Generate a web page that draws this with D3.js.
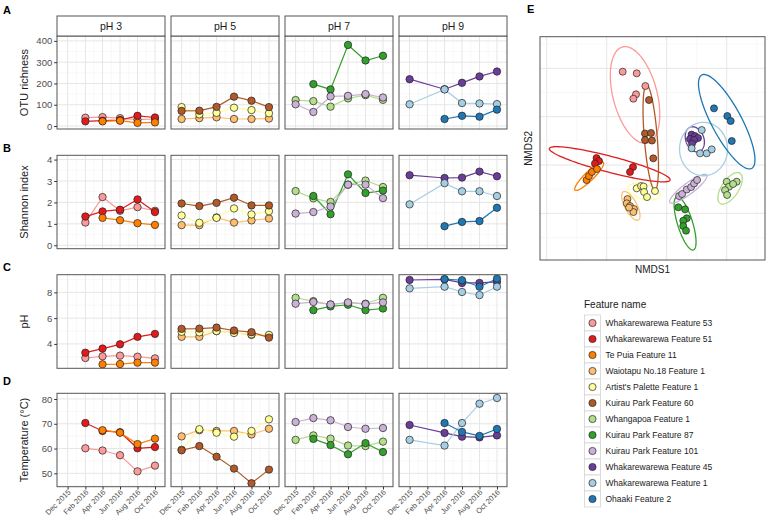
<!DOCTYPE html>
<html><head><meta charset="utf-8">
<script src="https://cdn.jsdelivr.net/npm/d3@7"></script>
<style>
body{margin:0;background:#fff}
svg{display:block}
text{font-family:"Liberation Sans",Arial,Helvetica,sans-serif}
</style>
</head><body>
<svg id="chart" width="767" height="520"></svg>
<script>
// ---------------- DATA ----------------
const sampleDates = ["2015-12-01","2016-02-01","2016-04-01","2016-06-01","2016-08-01","2016-10-01"];
const dateTickLabels = ["Dec 2015","Feb 2016","Apr 2016","Jun 2016","Aug 2016","Oct 2016"];
const facetNames = ["pH 3","pH 5","pH 7","pH 9"];
const features = ["Whakarewarewa Feature 53","Whakarewarewa Feature 51","Te Puia Feature 11",
  "Waiotapu No.18 Feature 1","Artist's Palette Feature 1","Kuirau Park Feature 60",
  "Whangapoa Feature 1","Kuirau Park Feature 87","Kuirau Park Feature 101",
  "Whakarewarewa Feature 45","Whakarewarewa Feature 1","Ohaaki Feature 2"];
const featureColors = ["#FB9A99","#E31A1C","#FF7F00","#FDBF6F","#FFFF99","#B15928",
  "#B2DF8A","#33A02C","#CAB2D6","#6A3D9A","#A6CEE3","#1F78B4"];
const featureFacet = ["pH 3","pH 3","pH 3","pH 5","pH 5","pH 5","pH 7","pH 7","pH 7","pH 9","pH 9","pH 9"];

const otuRichness = [
  [null, 39, 42, 37, 30, 33],
  [null, 22, 25, 28, 48, 40],
  [null, null, 22, 25, 15, 17],
  [33, 37, 41, 33, 33, 35],
  [89, 55, 62, 86, 75, 60],
  [71, 72, 90, 138, 119, 89],
  [122, 117, 91, 130, 145, 123],
  [null, 197, 172, 381, 308, 330],
  [102, 66, 139, 142, 150, 134],
  [220, null, 173, 203, 233, 256],
  [102, null, 172, 108, 106, 103],
  [null, null, 33, 48, 44, 77]
];
const shannonIndex = [
  [null, 1.06, 2.25, 1.61, 1.78, 1.61],
  [null, 1.34, 1.58, 1.66, 2.14, 1.55],
  [null, null, 1.28, 1.17, 1.03, 0.95],
  [0.94, 0.94, 1.30, 1.06, 1.16, 1.25],
  [1.39, 1.05, 1.28, 1.72, 1.44, 1.59],
  [1.95, 1.83, 1.98, 2.22, 1.86, 1.86],
  [2.53, 2.19, 2.02, 2.83, 3.02, 2.72],
  [null, 2.30, 1.45, 3.31, 2.44, 2.55],
  [1.48, 1.55, 1.81, 2.83, 2.83, 2.20],
  [3.27, null, 3.14, 3.16, 3.44, 3.22],
  [1.91, null, 2.90, 2.52, 2.52, 2.30],
  [null, null, 0.89, 1.09, 1.13, 1.75]
];
const phValues = [
  [null, 2.91, 3.04, 3.09, 3.01, 2.88],
  [null, 3.32, 3.64, 3.97, 4.55, 4.78],
  [null, null, 2.42, 2.44, 2.55, 2.55],
  [4.55, 4.55, 4.99, 4.88, 4.70, 4.65],
  [4.94, 4.90, 5.00, 4.85, 4.75, 4.70],
  [5.17, 5.19, 5.27, 5.04, 4.91, 4.49],
  [7.58, 7.32, 7.06, 7.19, 7.12, 7.58],
  [null, 6.62, 6.91, 7.04, 6.62, 6.75],
  [7.12, 7.25, 7.06, 7.22, 7.09, 7.22],
  [8.96, null, 9.01, 8.73, 8.73, 8.81],
  [8.31, null, 8.44, 8.03, 7.79, 8.44],
  [null, null, 9.03, 8.94, 8.44, 9.06]
];
const temperature = [
  [null, 60.1, 59.2, 57.3, 50.8, 53.1],
  [null, 70.3, 67.1, 66.6, 60.1, 60.6],
  [null, null, 67.4, 66.4, 61.8, 64.0],
  [64.9, 67.4, 67.1, 67.1, 65.7, 68.0],
  [59.5, 67.8, 66.4, 64.8, 67.1, 71.8],
  [59.3, 61.0, 56.7, 51.9, 46.0, 51.5],
  [63.5, 65.3, 64.0, 61.2, 61.0, 62.8],
  [null, 63.9, 61.4, 57.7, 62.2, 58.6],
  [70.7, 72.3, 71.4, 68.7, 68.0, 68.3],
  [69.5, null, 66.3, 64.8, 64.5, 65.3],
  [63.5, null, 61.2, 70.3, 78.1, 80.4],
  [null, null, 70.3, 66.7, 65.1, 67.9]
];
const otuTicks = [0, 100, 200, 300, 400];
const shannonTicks = [0, 1, 2, 3, 4];
const phTicks = [4, 6, 8];
const tempTicks = [50, 60, 70, 80];

// NMDS scores per feature
const nmds1 = [
  [-0.367, -0.250, -0.178, -0.256, -0.278],
  [-0.585, -0.564, -0.598, -0.281, -0.306],
  [-0.668, -0.648, -0.623, -0.581],
  [-0.327, -0.333, -0.306, -0.273, -0.278, -0.314],
  [-0.250, -0.214, -0.193, -0.189, -0.164, -0.098],
  [-0.148, -0.181, -0.131, -0.181, -0.123, -0.112],
  [0.500, 0.583, 0.519, 0.553, 0.486, 0.503],
  [0.097, 0.153, 0.167, 0.138, 0.138, 0.161],
  [0.103, 0.128, 0.167, 0.203, 0.228, 0.253],
  [0.207, 0.236, 0.261, 0.194, 0.228, 0.211],
  [0.292, 0.208, 0.278, 0.333, 0.375],
  [0.394, 0.505, 0.533, 0.542]
];
const nmds2 = [
  [0.965, 0.948, 0.817, 0.731, 0.686],
  [0.072, 0.041, 0.016, -0.021, -0.072],
  [-0.155, -0.114, -0.072, -0.041],
  [-0.352, -0.396, -0.424, -0.455, -0.486, -0.440],
  [-0.241, -0.217, -0.222, -0.279, -0.331, -0.269],
  [0.672, 0.326, 0.331, 0.259, 0.253, 0.069],
  [-0.173, -0.173, -0.224, -0.196, -0.259, -0.310],
  [-0.437, -0.458, -0.551, -0.576, -0.631, -0.679],
  [-0.321, -0.300, -0.253, -0.228, -0.191, -0.155],
  [0.315, 0.300, 0.279, 0.269, 0.259, 0.222],
  [0.362, 0.173, 0.121, 0.121, 0.162],
  [0.586, 0.507, 0.455, 0.248]
];
// confidence ellipses: centre and two conjugate semi-axes (NMDS units)
const ellipseCentre = [
  [-0.264, 0.724], [-0.475, 0.008], [-0.646, -0.116], [-0.299, -0.422],
  [-0.189, -0.274], [-0.133, 0.284], [0.528, -0.241], [0.153, -0.603],
  [0.180, -0.245], [0.234, 0.266], [0.307, 0.165], [0.500, 0.448]
];
const ellipseAxisU = [
  [0.104, -0.497], [0.503, -0.163], [0.118, 0.143], [0.0625, -0.146],
  [0.133, -0.044], [0.035, -0.543], [0.083, 0.155], [0.069, -0.275],
  [0.153, 0.142], [0.037, -0.126], [0.0, -0.276], [0.208, -0.483]
];
const ellipseAxisV = [
  [-0.178, -0.057], [-0.017, -0.080], [0.026, -0.033], [-0.044, -0.029],
  [-0.016, -0.075], [-0.054, -0.005], [0.059, -0.049], [-0.060, -0.023],
  [0.0275, -0.0455], [-0.071, -0.032], [0.200, 0.0], [-0.110, -0.073]
];
const nmdsMajor = [-1, -0.5, 0, 0.5, 1];
const nmdsMinor = [-0.75, -0.25, 0.25, 0.75, 1.25];

// ---------------- LAYOUT ----------------
const svg = d3.select("#chart");
const parse = d3.timeParse("%Y-%m-%d");
const dates = sampleDates.map(parse);
const colX = [57, 171, 285, 399], colW = 108;
const FONT_DARK = "#1a1a1a", FONT_GREY = "#4d4d4d";
const BORDER = "#555", GRID_MAJ = "#e6e6e6", GRID_MIN = "#f3f3f3";

const rowsDef = [
  {values: otuRichness, ticks: otuTicks, domain: [-14, 423], top: 36, bottom: 129, title: "OTU richness", letter: "A", letterY: 14},
  {values: shannonIndex, ticks: shannonTicks, domain: [-0.16, 4.2], top: 155.3, bottom: 248.7, title: "Shannon index", letter: "B", letterY: 152},
  {values: phValues, ticks: phTicks, domain: [2.11, 9.37], top: 274.7, bottom: 368.3, title: "pH", letter: "C", letterY: 271},
  {values: temperature, ticks: tempTicks, domain: [44.6, 82.3], top: 393.3, bottom: 486.7, title: "Temperature (°C)", letter: "D", letterY: 385}
];

const xDomain = [d3.timeDay.offset(dates[0], -37), d3.timeDay.offset(dates[dates.length - 1], 35)];
const xMinor = [];
for (let i = 0; i < dates.length - 1; i++) xMinor.push(new Date((+dates[i] + +dates[i + 1]) / 2));

rowsDef.forEach((row, ri) => {
  const y = d3.scaleLinear().domain(row.domain).range([row.bottom, row.top]);
  const step = row.ticks[1] - row.ticks[0];
  const yMinor = [row.ticks[0] - step / 2].concat(row.ticks.map(t => t + step / 2))
    .filter(v => v > row.domain[0] && v < row.domain[1]);

  // row letter
  svg.append("text").attr("x", 3).attr("y", row.letterY).text(row.letter)
    .attr("font-size", 11).attr("font-weight", "bold").attr("fill", "#000");
  // y title
  svg.append("text")
    .attr("transform", `translate(28,${(row.top + row.bottom) / 2}) rotate(-90)`)
    .attr("text-anchor", "middle").attr("font-size", 11).attr("fill", FONT_DARK).text(row.title);

  facetNames.forEach((facet, ci) => {
    const x = d3.scaleTime().domain(xDomain).range([colX[ci], colX[ci] + colW]);
    const g = svg.append("g");
    g.append("rect").attr("x", colX[ci]).attr("y", row.top).attr("width", colW)
      .attr("height", row.bottom - row.top).attr("fill", "#fff");
    // grid
    g.selectAll(".ymin").data(yMinor).enter().append("line")
      .attr("x1", colX[ci]).attr("x2", colX[ci] + colW).attr("y1", d => y(d)).attr("y2", d => y(d))
      .attr("stroke", GRID_MIN).attr("stroke-width", 0.6);
    g.selectAll(".xmin").data(xMinor).enter().append("line")
      .attr("y1", row.top).attr("y2", row.bottom).attr("x1", d => x(d)).attr("x2", d => x(d))
      .attr("stroke", GRID_MIN).attr("stroke-width", 0.6);
    g.selectAll(".ymaj").data(row.ticks).enter().append("line")
      .attr("x1", colX[ci]).attr("x2", colX[ci] + colW).attr("y1", d => y(d)).attr("y2", d => y(d))
      .attr("stroke", GRID_MAJ).attr("stroke-width", 1);
    g.selectAll(".xmaj").data(dates).enter().append("line")
      .attr("y1", row.top).attr("y2", row.bottom).attr("x1", d => x(d)).attr("x2", d => x(d))
      .attr("stroke", GRID_MAJ).attr("stroke-width", 1);

    const idx = features.map((f, i) => i).filter(i => featureFacet[i] === facet);
    const line = d3.line().defined(d => d.v != null).x(d => x(d.d)).y(d => y(d.v));
    idx.forEach(i => {
      const pts = dates.map((d, k) => ({d, v: row.values[i][k]})).filter(p => p.v != null);
      g.append("path").datum(pts).attr("d", line).attr("fill", "none")
        .attr("stroke", featureColors[i]).attr("stroke-width", 1.2);
    });
    idx.forEach(i => {
      const pts = dates.map((d, k) => ({d, v: row.values[i][k]})).filter(p => p.v != null);
      g.selectAll(null).data(pts).enter().append("circle")
        .attr("cx", p => x(p.d)).attr("cy", p => y(p.v)).attr("r", 3.7)
        .attr("fill", featureColors[i]).attr("stroke", "#222").attr("stroke-width", 0.7);
    });
    g.append("rect").attr("x", colX[ci]).attr("y", row.top).attr("width", colW)
      .attr("height", row.bottom - row.top).attr("fill", "none").attr("stroke", BORDER).attr("stroke-width", 1);

    if (ri === 0) {
      svg.append("rect").attr("x", colX[ci]).attr("y", 16).attr("width", colW).attr("height", 20)
        .attr("fill", "#fff").attr("stroke", BORDER).attr("stroke-width", 1);
      svg.append("text").attr("x", colX[ci] + colW / 2).attr("y", 29.8).attr("text-anchor", "middle")
        .attr("font-size", 10.5).attr("fill", FONT_DARK).text(facet);
    }
    if (ci === 0) {
      const ax = svg.append("g").attr("transform", `translate(${colX[0]},0)`)
        .call(d3.axisLeft(y).tickValues(row.ticks).tickSize(2.8).tickPadding(2).tickFormat(d3.format("d")));
      ax.select(".domain").remove();
      ax.selectAll("line").attr("stroke", "#333");
      ax.selectAll("text").attr("font-size", 9.5).attr("fill", FONT_GREY)
        .attr("font-family", "Liberation Sans, Arial, sans-serif");
    }
    if (ri === rowsDef.length - 1) {
      const ax = svg.append("g").attr("transform", `translate(0,${row.bottom})`)
        .call(d3.axisBottom(x).tickValues(dates).tickSize(2.8).tickFormat((d, k) => dateTickLabels[k]));
      ax.select(".domain").remove();
      ax.selectAll("line").attr("stroke", "#333");
      ax.selectAll("text").attr("font-size", 7.5).attr("fill", FONT_GREY)
        .attr("font-family", "Liberation Sans, Arial, sans-serif")
        .attr("text-anchor", "end").attr("dy", null).attr("y", null)
        .attr("transform", "translate(3,6) rotate(-45)");
    }
  });
});

// ---------------- NMDS PANEL ----------------
const E = {left: 540, right: 765, top: 36.7, bottom: 260};
const nx = d3.scaleLinear().domain([-1.056, 0.819]).range([E.left, E.right]);
const ny = d3.scaleLinear().domain([-0.982, 1.327]).range([E.bottom, E.top]);
svg.append("text").attr("x", 527).attr("y", 13).text("E").attr("font-size", 11).attr("font-weight", "bold");
const eg = svg.append("g");
eg.append("rect").attr("x", E.left).attr("y", E.top).attr("width", E.right - E.left)
  .attr("height", E.bottom - E.top).attr("fill", "#fff");
const inX = v => v > nx.domain()[0] && v < nx.domain()[1];
const inY = v => v > ny.domain()[0] && v < ny.domain()[1];
eg.selectAll(".nxmin").data(nmdsMinor.filter(inX)).enter().append("line")
  .attr("x1", d => nx(d)).attr("x2", d => nx(d)).attr("y1", E.top).attr("y2", E.bottom)
  .attr("stroke", GRID_MIN).attr("stroke-width", 0.6);
eg.selectAll(".nymin").data(nmdsMinor.filter(inY)).enter().append("line")
  .attr("y1", d => ny(d)).attr("y2", d => ny(d)).attr("x1", E.left).attr("x2", E.right)
  .attr("stroke", GRID_MIN).attr("stroke-width", 0.6);
eg.selectAll(".nxmaj").data(nmdsMajor.filter(inX)).enter().append("line")
  .attr("x1", d => nx(d)).attr("x2", d => nx(d)).attr("y1", E.top).attr("y2", E.bottom)
  .attr("stroke", GRID_MAJ).attr("stroke-width", 1);
eg.selectAll(".nymaj").data(nmdsMajor.filter(inY)).enter().append("line")
  .attr("y1", d => ny(d)).attr("y2", d => ny(d)).attr("x1", E.left).attr("x2", E.right)
  .attr("stroke", GRID_MAJ).attr("stroke-width", 1);

const angles = d3.range(0, 2 * Math.PI, Math.PI / 60);
const eLine = d3.line().x(d => nx(d[0])).y(d => ny(d[1])).curve(d3.curveLinearClosed);
features.forEach((f, i) => {
  const [cx, cy] = ellipseCentre[i], [ux, uy] = ellipseAxisU[i], [vx, vy] = ellipseAxisV[i];
  const pts = angles.map(t => [cx + ux * Math.cos(t) + vx * Math.sin(t), cy + uy * Math.cos(t) + vy * Math.sin(t)]);
  eg.append("path").attr("d", eLine(pts)).attr("fill", "none")
    .attr("stroke", featureColors[i]).attr("stroke-width", 1.3);
});
features.forEach((f, i) => {
  const pts = nmds1[i].map((v, k) => [v, nmds2[i][k]]);
  eg.selectAll(null).data(pts).enter().append("circle")
    .attr("cx", d => nx(d[0])).attr("cy", d => ny(d[1])).attr("r", 3.5)
    .attr("fill", featureColors[i]).attr("stroke", "#222").attr("stroke-width", 0.7);
});
eg.append("rect").attr("x", E.left).attr("y", E.top).attr("width", E.right - E.left)
  .attr("height", E.bottom - E.top).attr("fill", "none").attr("stroke", BORDER).attr("stroke-width", 1);
svg.append("text").attr("x", (E.left + E.right) / 2).attr("y", 273).attr("text-anchor", "middle")
  .attr("font-size", 10).attr("fill", FONT_DARK).text("NMDS1");
svg.append("text").attr("transform", `translate(532,${(E.top + E.bottom) / 2}) rotate(-90)`)
  .attr("text-anchor", "middle").attr("font-size", 10).attr("fill", FONT_DARK).text("NMDS2");

// ---------------- LEGEND ----------------
const lg = svg.append("g");
lg.append("text").attr("x", 584).attr("y", 308).attr("font-size", 10).attr("fill", FONT_DARK).text("Feature name");
features.forEach((f, i) => {
  const top = 315 + i * 16;
  lg.append("rect").attr("x", 584.5).attr("y", top).attr("width", 16).attr("height", 16)
    .attr("fill", "#fff").attr("stroke", "#d4d4d4").attr("stroke-width", 0.8);
  lg.append("circle").attr("cx", 592.5).attr("cy", top + 8).attr("r", 3.6)
    .attr("fill", featureColors[i]).attr("stroke", "#222").attr("stroke-width", 0.7);
  lg.append("text").attr("x", 605.5).attr("y", top + 11).attr("font-size", 8.5)
    .attr("fill", FONT_DARK).text(f);
});
</script>
</body></html>
